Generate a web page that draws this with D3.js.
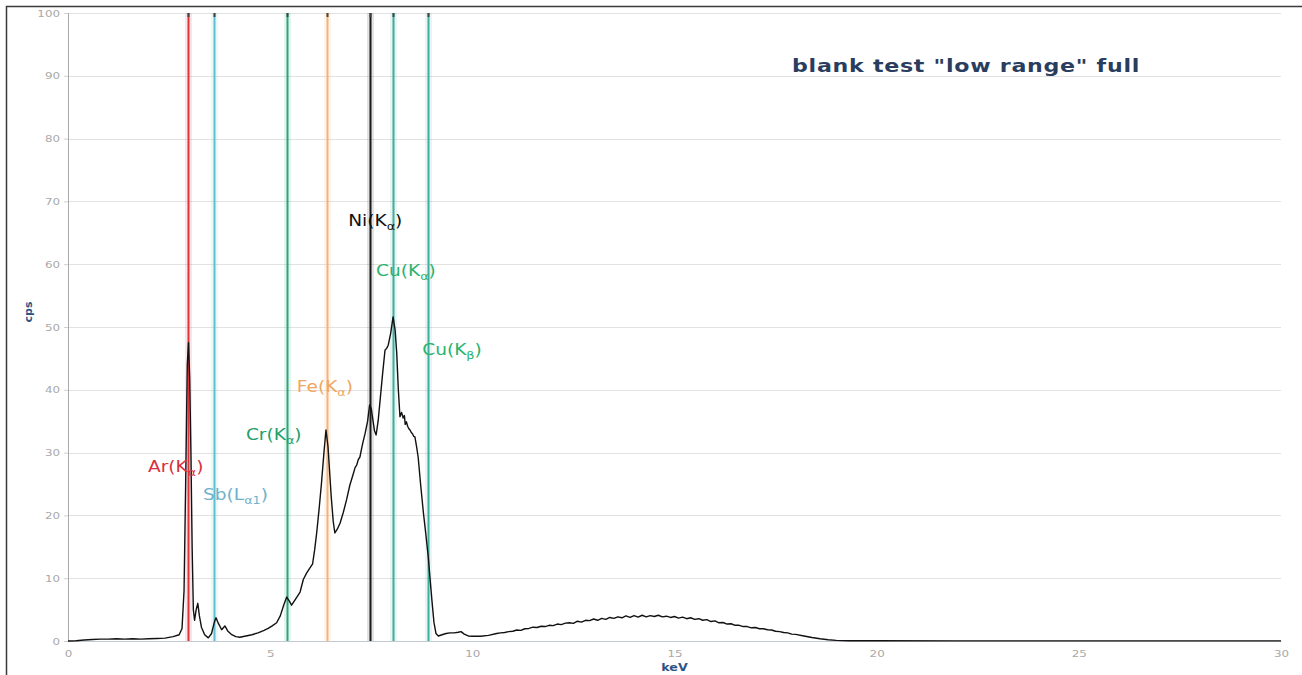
<!DOCTYPE html>
<html>
<head>
<meta charset="utf-8">
<script src="https://cdn.jsdelivr.net/npm/d3@7"></script>
<style>
  html, body { margin: 0; padding: 0; background: #fff; }
  svg { display: block; }
</style>
</head>
<body>
<svg id="chart" width="1302" height="675"></svg>
<script>
// X-ray fluorescence spectrum of a blank sample, low energy range

// Tick values
const xTicks = [0, 5, 10, 15, 20, 25, 30];
const yTicks = [0, 10, 20, 30, 40, 50, 60, 70, 80, 90, 100];

// Spectrum: photon energy (keV) and count rate (cps)
const spectrumKeV = [
  0.0, 0.2, 0.4, 0.6, 0.8, 1.0, 1.2, 1.4, 1.6, 1.8, 2.0, 2.2, 2.4, 2.6, 2.75,
  2.82, 2.87, 2.91, 2.95, 2.98, 3.01, 3.04, 3.07, 3.10, 3.13, 3.17, 3.21, 3.25,
  3.30, 3.38, 3.47, 3.55, 3.62, 3.66, 3.72, 3.80, 3.88, 3.95, 4.05, 4.15, 4.25,
  4.4, 4.55, 4.7, 4.85, 4.95, 5.05, 5.16, 5.25, 5.34, 5.41, 5.47, 5.53, 5.62,
  5.74, 5.82, 5.9, 5.98, 6.05, 6.10, 6.15, 6.21, 6.27, 6.33, 6.38, 6.43, 6.47,
  6.51, 6.56, 6.60, 6.66, 6.73, 6.81, 6.89, 6.97, 7.06, 7.10, 7.14, 7.18, 7.22,
  7.26, 7.29, 7.35, 7.41, 7.46, 7.50, 7.54, 7.58, 7.62, 7.67, 7.72, 7.78, 7.84,
  7.88, 7.92, 7.98, 8.04, 8.09, 8.13, 8.17, 8.21, 8.25, 8.29, 8.32, 8.34, 8.37,
  8.40, 8.43, 8.46, 8.49, 8.52, 8.55, 8.58, 8.62, 8.66, 8.72, 8.79, 8.85, 8.91,
  8.96, 9.00, 9.05, 9.10, 9.16, 9.25, 9.35, 9.45, 9.55, 9.65, 9.72, 9.8, 9.9,
  10.0, 10.2, 10.4, 10.6, 10.7, 10.8, 10.9, 11.0, 11.1, 11.2, 11.3, 11.4, 11.5,
  11.6, 11.7, 11.8, 11.9, 12.0, 12.1, 12.2, 12.3, 12.4, 12.5, 12.6, 12.7, 12.8,
  12.9, 13.0, 13.1, 13.2, 13.3, 13.4, 13.5, 13.6, 13.7, 13.8, 13.9, 14.0, 14.1,
  14.2, 14.3, 14.4, 14.5, 14.6, 14.7, 14.8, 14.9, 15.0, 15.1, 15.2, 15.3, 15.4,
  15.5, 15.6, 15.7, 15.8, 15.9, 16.0, 16.1, 16.2, 16.3, 16.4, 16.5, 16.6, 16.7,
  16.8, 16.9, 17.0, 17.1, 17.2, 17.3, 17.4, 17.5, 17.6, 17.7, 17.8, 17.9, 18.0,
  18.2, 18.4, 18.6, 18.8, 19.0, 19.3, 20.0, 22.0, 25.0, 28.0, 30.0
];
const spectrumCps = [
  0.0, 0.05, 0.15, 0.25, 0.3, 0.3, 0.35, 0.3, 0.35, 0.3, 0.35, 0.4, 0.45, 0.7, 1.0,
  2.0, 8.0, 25.0, 44.0, 47.5, 42.0, 30.0, 15.0, 5.0, 3.3, 5.0, 6.0, 4.0,
  2.2, 1.0, 0.5, 1.2, 3.0, 3.7, 2.8, 1.8, 2.4, 1.6, 1.0, 0.7, 0.6,
  0.8, 1.0, 1.3, 1.7, 2.0, 2.4, 2.9, 4.0, 5.8, 7.0, 6.4, 5.7, 6.6,
  7.8, 9.8, 10.8, 11.6, 12.3, 14.5, 17.2, 21.0, 25.2, 30.0, 33.6, 31.0, 27.0,
  23.0, 19.0, 17.2, 17.8, 18.8, 20.5, 22.5, 24.8, 26.7, 27.6, 28.0, 28.9, 29.3,
  30.6, 31.5, 33.1, 35.0, 37.6, 37.0, 35.2, 33.5, 32.8, 35.0, 38.4, 42.5, 46.3,
  46.6, 47.1, 49.0, 51.6, 49.5, 45.9, 40.0, 35.7, 36.4, 35.5, 35.9, 34.5, 34.9,
  34.2, 33.8, 33.6, 33.2, 33.0, 32.6, 32.5, 31.0, 29.3, 25.0, 20.4, 17.0, 13.4,
  9.5, 6.5, 3.0, 1.2, 0.8, 1.0, 1.2, 1.3, 1.3, 1.4, 1.5, 1.1, 0.8,
  0.75, 0.75, 0.9, 1.2, 1.3, 1.35, 1.5, 1.55, 1.75, 1.7, 1.95, 2.0, 2.2,
  2.15, 2.35, 2.3, 2.5, 2.45, 2.7, 2.6, 2.85, 2.9, 2.8, 3.15, 3.0, 3.3,
  3.25, 3.5, 3.3, 3.6, 3.45, 3.75, 3.6, 3.85, 3.7, 4.0, 3.75, 4.05, 3.8,
  4.1, 3.85, 4.05, 3.9, 4.1, 3.85, 3.95, 3.75, 3.9, 3.65, 3.8, 3.55, 3.7,
  3.45, 3.55, 3.3, 3.4, 3.1, 3.2, 2.9, 2.95, 2.7, 2.75, 2.5, 2.5, 2.3,
  2.3, 2.1, 2.15, 1.95, 1.95, 1.8, 1.75, 1.55, 1.5, 1.35, 1.3, 1.1, 1.05,
  0.8, 0.55, 0.35, 0.2, 0.1, 0.05, 0.03, 0.02, 0.02, 0.02, 0.02
];

// Characteristic emission lines
const lineElements = ["Ar", "Sb", "Cr", "Fe", "Ni", "Cu", "Cu"];
const lineShells   = ["K", "L", "K", "K", "K", "K", "K"];
const lineSubs     = ["α", "α1", "α", "α", "α", "α", "β"];
const lineKeV      = [2.957, 3.604, 5.415, 6.404, 7.478, 8.048, 8.905];
const lineColors   = ["#e0323c", "#5ebfcf", "#27a878", "#f4b277", "#1a1a1a", "#3fae9e", "#3fae9e"];
const labelColors  = ["#d8303e", "#6fb2cc", "#22a06c", "#f0a660", "#111111", "#2ab36e", "#2ab36e"];

const titleText = "blank test \"low range\" full";

// Layout
const svg = d3.select("#chart");
const plot = { left: 68, right: 1281, top: 13, bottom: 641 };

const x = d3.scaleLinear().domain([0, 30]).range([plot.left, plot.right]);
const y = d3.scaleLinear().domain([0, 100]).range([plot.bottom, plot.top]);

// Label anchors in data units (left edge keV, baseline cps)
const labelAnchorKeV = [1.98, 3.34, 4.40, 5.66, 6.93, 7.62, 8.76];
const labelAnchorCps = [26.9, 22.4, 32.0, 39.6, 66.1, 58.1, 45.5];

// Outer frame
svg.append("path")
  .attr("d", "M6.5,675 V6.5 H1302")
  .attr("fill", "none")
  .attr("stroke", "#3a3a3a")
  .attr("stroke-width", 1.5);

// Horizontal grid
svg.append("g")
  .selectAll("line")
  .data(yTicks.filter(d => d > 0))
  .join("line")
  .attr("x1", plot.left)
  .attr("x2", plot.right)
  .attr("y1", d => Math.round(y(d)) + 0.5)
  .attr("y2", d => Math.round(y(d)) + 0.5)
  .attr("stroke", "#e2e2e2")
  .attr("stroke-width", 1);

// Y axis
const yAxis = svg.append("g")
  .attr("transform", `translate(${plot.left},0)`)
  .call(d3.axisLeft(y).tickValues(yTicks).tickSize(4).tickPadding(4));
yAxis.select(".domain").attr("stroke", "#a8a8a8");
yAxis.selectAll(".tick line").attr("stroke", "#d0d0d0");
yAxis.selectAll(".tick text")
  .attr("fill", "#a9a9a9")
  .attr("font-family", "DejaVu Sans")
  .attr("font-size", 9.5)
  .attr("x", -8 / 1.25)
  .attr("transform", "scale(1.25,1)");

// X axis
const xAxis = svg.append("g")
  .attr("transform", `translate(0,${plot.bottom})`)
  .call(d3.axisBottom(x).tickValues(xTicks).tickSize(0).tickPadding(9));
xAxis.select(".domain").attr("stroke", "#c4c8d0");
xAxis.selectAll(".tick text")
  .attr("fill", "#a9a9a9")
  .attr("font-family", "DejaVu Sans")
  .attr("font-size", 9.5)
  .attr("transform", "scale(1.25,1)");

// Axis titles
svg.append("text")
  .attr("transform", "translate(32,312) rotate(-90)")
  .attr("text-anchor", "middle")
  .attr("font-family", "DejaVu Sans")
  .attr("font-weight", "bold")
  .attr("font-size", 11)
  .attr("fill", "#2d5386")
  .text("cps");

svg.append("text")
  .attr("transform", `translate(${x(15)},671) scale(1.15,1)`)
  .attr("text-anchor", "middle")
  .attr("font-family", "DejaVu Sans")
  .attr("font-weight", "bold")
  .attr("font-size", 11)
  .attr("fill", "#2d5386")
  .text("keV");

// Emission line markers
const lines = svg.append("g");
lineKeV.forEach((e, i) => {
  const xp = Math.round(x(e)) + 0.5;
  lines.append("line")
    .attr("x1", xp).attr("x2", xp)
    .attr("y1", y(100)).attr("y2", y(0))
    .attr("stroke", lineColors[i])
    .attr("stroke-opacity", 0.12)
    .attr("stroke-width", 7);
  lines.append("line")
    .attr("x1", xp).attr("x2", xp)
    .attr("y1", y(100)).attr("y2", y(0))
    .attr("stroke", lineColors[i])
    .attr("stroke-width", 2);
  lines.append("line")
    .attr("x1", xp).attr("x2", xp)
    .attr("y1", y(100)).attr("y2", y(100) + 4)
    .attr("stroke", "#444")
    .attr("stroke-width", 2);
});

// Spectrum trace
const spectrum = spectrumKeV.map((e, i) => [e, spectrumCps[i]]);
svg.append("path")
  .datum(spectrum)
  .attr("fill", "none")
  .attr("stroke", "#111")
  .attr("stroke-width", 1.4)
  .attr("stroke-linejoin", "round")
  .attr("d", d3.line().x(d => x(d[0])).y(d => y(d[1])));

// Line labels: Element(Shell_sub)
const labels = svg.append("g");
lineElements.forEach((el, i) => {
  const t = labels.append("text")
    .attr("transform", `translate(${x(labelAnchorKeV[i])},${y(labelAnchorCps[i])}) scale(1.16,1)`)
    .attr("font-family", "DejaVu Sans")
    .attr("font-size", 16)
    .attr("fill", labelColors[i]);
  t.append("tspan").text(`${el}(${lineShells[i]}`);
  t.append("tspan").attr("font-size", 11).attr("dy", 4).text(lineSubs[i]);
  t.append("tspan").attr("dy", -4).text(")");
});

// Chart title
svg.append("text")
  .attr("transform", "translate(792,72) scale(1.23,1)")
  .attr("font-family", "DejaVu Sans")
  .attr("font-weight", "bold")
  .attr("font-size", 18)
  .attr("letter-spacing", 0.6)
  .attr("fill", "#2a3d5e")
  .text(titleText);
</script>
</body>
</html>
